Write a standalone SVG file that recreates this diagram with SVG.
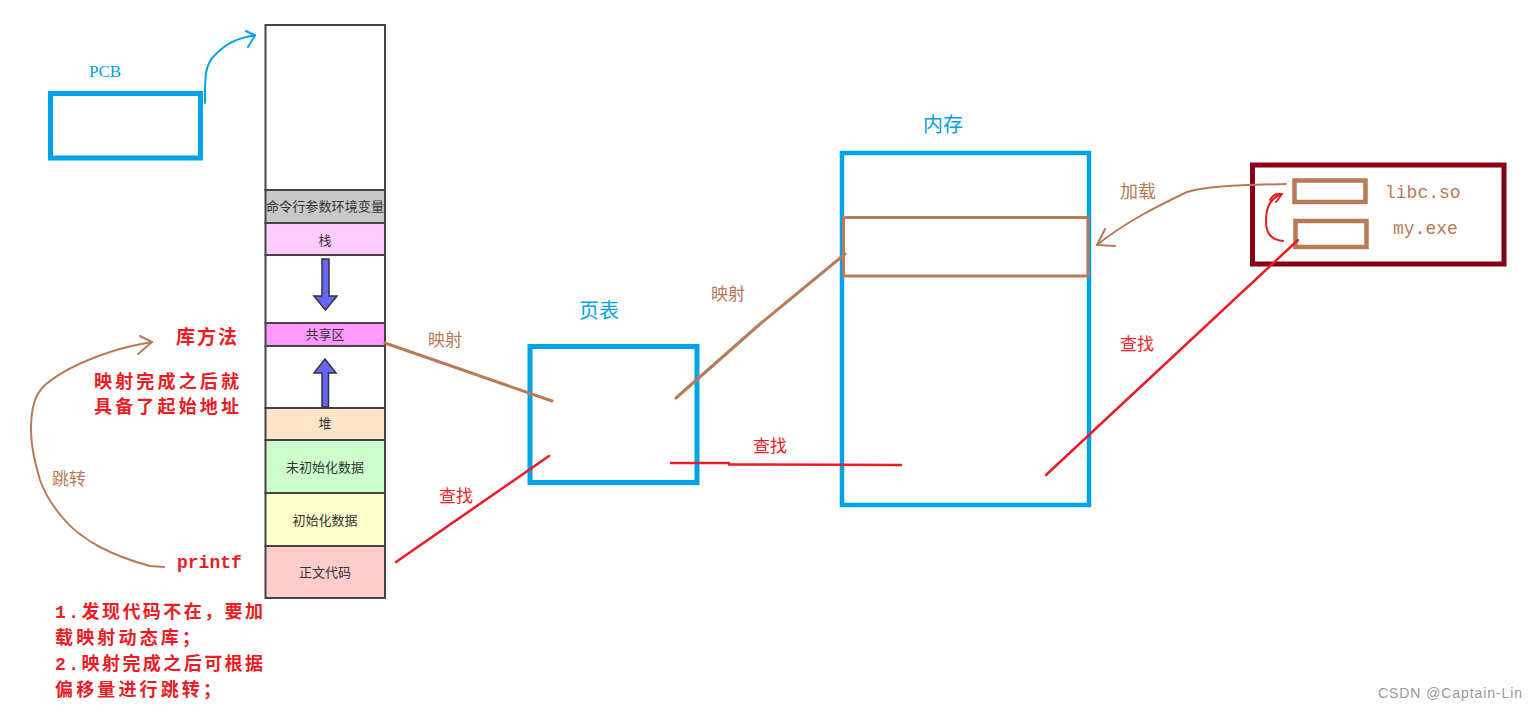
<svg xmlns="http://www.w3.org/2000/svg" width="1536" height="710" viewBox="0 0 1536 710">
<style>
.blue{fill:none;stroke:#00a2e8;stroke-width:5}
.brown{fill:none;stroke:#b97a57}
.red{fill:none;stroke:#ed1c24}
.seg{stroke:#444;stroke-width:2}
.lbl{font-family:"Noto Sans CJK SC",sans-serif;font-size:13px;fill:#333;text-anchor:middle}
.cn{font-family:"Noto Sans CJK SC",sans-serif}
.mono{font-family:"Liberation Mono","Noto Sans CJK SC",monospace}
.tb{fill:#00a2e8}
.tr{fill:#ed1c24}
.tbr{fill:#b97a57}
.arr{fill:#6666ff;stroke:#333;stroke-width:1.5}
</style>
<rect width="1536" height="710" fill="#fff"/>

<g id="pcb">
<rect class="blue" x="50.5" y="93.5" width="150" height="64.5"/>
<text x="89" y="77" font-family="Liberation Serif,serif" font-size="17" class="tb">PCB</text>
</g>

<g id="address-space">
<rect x="265.5" y="25" width="119.5" height="165" fill="#fff" class="seg"/>
<rect x="265.5" y="190" width="119.5" height="33" fill="#c8c8c8" class="seg"/>
<rect x="265.5" y="223" width="119.5" height="32" fill="#ffccff" class="seg"/>
<rect x="265.5" y="255" width="119.5" height="68" fill="#fff" class="seg"/>
<rect x="265.5" y="323" width="119.5" height="23" fill="#ff99ff" class="seg"/>
<rect x="265.5" y="346" width="119.5" height="62" fill="#fff" class="seg"/>
<rect x="265.5" y="408" width="119.5" height="32" fill="#ffe4c8" class="seg"/>
<rect x="265.5" y="440" width="119.5" height="53" fill="#ccffcc" class="seg"/>
<rect x="265.5" y="493" width="119.5" height="53" fill="#ffffcc" class="seg"/>
<rect x="265.5" y="546" width="119.5" height="52" fill="#ffcccc" class="seg"/>
<text class="lbl" x="325" y="211" textLength="118" lengthAdjust="spacingAndGlyphs">命令行参数环境变量</text>
<text class="lbl" x="325" y="245">栈</text>
<text class="lbl" x="325" y="339" font-size="12">共享区</text>
<text class="lbl" x="325" y="428">堆</text>
<text class="lbl" x="325" y="472">未初始化数据</text>
<text class="lbl" x="325" y="525">初始化数据</text>
<text class="lbl" x="325" y="577">正文代码</text>
<polygon class="arr" points="322,259 329,259 329,296 337,296 325.5,310 314,296 322,296"/>
<polygon class="arr" points="325,359 336,373 328.5,373 328.5,407 322,407 322,373 314,373"/>
</g>

<g id="page-table">
<rect class="blue" x="530" y="346.5" width="167" height="136"/>
<text x="579" y="318" class="cn tb" font-size="20">页表</text>
</g>

<g id="memory">
<rect class="blue" x="842" y="153" width="247" height="352" style="stroke-width:4.5"/>
<rect class="brown" x="843.5" y="217.5" width="244.5" height="58.5" stroke-width="3"/>
<text x="923" y="132" class="cn tb" font-size="20">内存</text>
</g>

<g id="disk">
<rect x="1252.5" y="165" width="251.5" height="99" fill="none" stroke="#880015" stroke-width="5"/>
<rect class="brown" x="1294.5" y="180.5" width="71" height="21.5" stroke-width="4.5"/>
<rect class="brown" x="1295.5" y="221" width="71" height="26" stroke-width="4.5"/>
<text x="1385" y="198" class="mono tbr" font-size="18">libc.so</text>
<text x="1393" y="234" class="mono tbr" font-size="18">my.exe</text>
</g>

<g id="labels">
<text x="428" y="346" class="cn tbr" font-size="17">映射</text>
<text x="711" y="300" class="cn tbr" font-size="17">映射</text>
<text x="439" y="502" class="cn tr" font-size="17">查找</text>
<text x="753" y="452" class="cn tr" font-size="17">查找</text>
<text x="1120" y="350" class="cn tr" font-size="17">查找</text>
<text x="1120" y="198" class="cn tbr" font-size="18">加载</text>
<text x="52" y="485" class="cn tbr" font-size="17">跳转</text>
<text x="176" y="344" class="cn tr" font-size="19" font-weight="bold" textLength="61">库方法</text>
<text x="94" y="388" class="cn tr" font-size="18" font-weight="bold" textLength="145">映射完成之后就</text>
<text x="94" y="413" class="cn tr" font-size="18" font-weight="bold" textLength="145">具备了起始地址</text>
<text x="177" y="568" class="mono tr" font-size="18" font-weight="bold">printf</text>
<text x="55" y="618" class="mono tr" font-size="18" font-weight="bold" textLength="208">1.发现代码不在，要加</text>
<text x="55" y="644" class="mono tr" font-size="18" font-weight="bold" textLength="145">载映射动态库；</text>
<text x="55" y="670" class="mono tr" font-size="18" font-weight="bold" textLength="208">2.映射完成之后可根据</text>
<text x="55" y="696" class="mono tr" font-size="18" font-weight="bold" textLength="166">偏移量进行跳转；</text>
<text x="1378" y="698" font-family="Liberation Sans,sans-serif" font-size="14" fill="#999" textLength="144">CSDN @Captain-Lin</text>
</g>

<g id="connectors" stroke-linecap="round" stroke-linejoin="round">
<path d="M205,103 C205,80 204,65 215,55 C225,45 235,38 255,35.5" fill="none" stroke="#00a2e8" stroke-width="2"/>
<path d="M246,31 L255,35.5 L248,47" fill="none" stroke="#00a2e8" stroke-width="2"/>
<path class="brown" stroke-width="3" d="M385,343 L552,401"/>
<path class="brown" stroke-width="3" d="M676,398 L760,324 L845,254"/>
<path class="red" stroke-width="2.5" d="M396,562 L549,456"/>
<path class="red" stroke-width="2.5" d="M671,463 L729,463 M729,464.5 L901,465"/>
<path class="red" stroke-width="2.5" d="M1298,240 L1046,475"/>
<path class="brown" stroke-width="2" d="M1286,184 L1247,185 C1220,186 1200,188 1187,192 C1160,205 1125,222 1097,245"/>
<path class="brown" stroke-width="2" d="M1105,229 L1097,245 L1115,246"/>
<path class="red" stroke-width="2" d="M1283,241 C1270,240 1266,232 1266,222 C1266,210 1268,200 1281,194"/>
<path class="red" stroke-width="2" d="M1270,200 C1273,195 1277,193 1282,194 L1276,202"/>
<path class="brown" stroke-width="2" d="M164,567 L150,566 C135,562 115,555 100,547 C85,539 70,527 62,517 C52,505 45,495 40,480 C34,460 31,445 31,430 C31,410 34,395 45,385 C60,372 80,362 110,352 C125,347 140,344 152,342"/>
<path class="brown" stroke-width="2" d="M140,336 L152,342 L138,354"/>
</g>
</svg>
